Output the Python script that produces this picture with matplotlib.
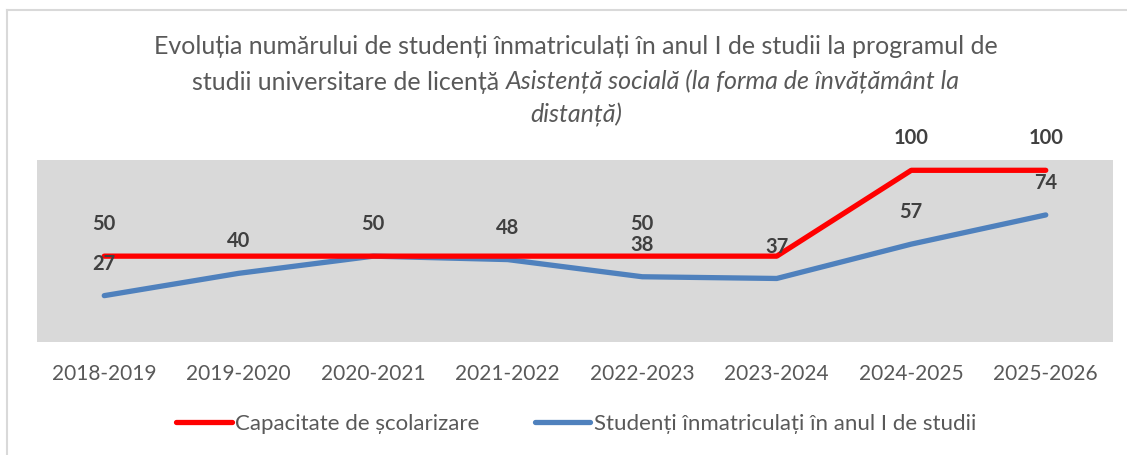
import matplotlib
matplotlib.use('Agg')
import matplotlib.pyplot as plt
from matplotlib.lines import Line2D

plt.rcParams['font.family'] = ['Lato', 'DejaVu Sans']

years = ['2018-2019', '2019-2020', '2020-2021', '2021-2022',
         '2022-2023', '2023-2024', '2024-2025', '2025-2026']
capacitate = [50, 50, 50, 50, 50, 50, 100, 100]
studenti = [27, 40, 50, 48, 38, 37, 57, 74]
# which data labels are visible in the original
cap_label_on = [True, False, True, False, True, False, True, True]
stud_label_on = [True, True, False, True, True, True, True, True]

cap_name = 'Capacitate de școlarizare'
stud_name = 'Studenți înmatriculați în anul I de studii'

RED = '#FF0000'
BLUE = '#4F81BD'
TXT = '#595959'
LBL = '#404040'

fig = plt.figure(figsize=(11.27, 4.55), dpi=100)
fig.patch.set_facecolor('white')

# chart frame (only left and top visible in the crop)
fig.add_artist(Line2D([7 / 1127, 7 / 1127], [0, 1 - 10 / 455], color='#D9D9D9', lw=1.5,
                      transform=fig.transFigure))
fig.add_artist(Line2D([7 / 1127, 1], [1 - 10 / 455, 1 - 10 / 455], color='#D9D9D9', lw=1.5,
                      transform=fig.transFigure))

ax = fig.add_axes([37 / 1127, 1 - 342 / 455, (1113 - 37) / 1127, (342 - 160) / 455])
ax.set_facecolor('#D9D9D9')
for s in ax.spines.values():
    s.set_visible(False)

x = list(range(len(years)))
ax.plot(x, studenti, color=BLUE, lw=3.8, solid_capstyle='round', solid_joinstyle='round',
        label=stud_name, zorder=3)
ax.plot(x, capacitate, color=RED, lw=3.8, solid_capstyle='round', solid_joinstyle='round',
        label=cap_name, zorder=4)

for i in x:
    if cap_label_on[i]:
        ax.annotate(str(capacitate[i]), (i, capacitate[i]), xytext=(0, 23),
                    textcoords='offset points', ha='center', va='center',
                    fontsize=14.5, fontweight='bold', color=LBL, zorder=5,
                    annotation_clip=False)
    if stud_label_on[i]:
        ax.annotate(str(studenti[i]), (i, studenti[i]), xytext=(0, 23),
                    textcoords='offset points', ha='center', va='center',
                    fontsize=14.5, fontweight='bold', color=LBL, zorder=5,
                    annotation_clip=False)

ax.set_xlim(-0.5, len(years) - 0.5)
ax.set_ylim(0, 106)
ax.set_yticks([])
ax.set_xticks(x)
ax.set_xticklabels(years, fontsize=15, color=TXT)
ax.tick_params(axis='x', length=0, pad=16)

# legend
handles = [Line2D([], [], color=RED, lw=3.8, solid_capstyle='round'),
           Line2D([], [], color=BLUE, lw=3.8, solid_capstyle='round')]
leg = fig.legend(handles, [cap_name, stud_name], loc='center', ncol=2,
                 bbox_to_anchor=(576 / 1127, 1 - 424 / 455), frameon=False,
                 fontsize=16, handlelength=2.5, handletextpad=0.15, columnspacing=2.5)
for t in leg.get_texts():
    t.set_color(TXT)

# title with italic part
tfs = 18
cx = 576 / 1127
fig.text(cx, 1 - 47 / 455, 'Evoluția numărului de studenți înmatriculați în anul I de studii la programul de',
         ha='center', va='center', fontsize=tfs, color=TXT)
part_a = 'studii universitare de licență '
part_b = 'Asistență socială (la forma de învățământ la'
renderer = fig.canvas.get_renderer()
ta = fig.text(0, 1 - 82 / 455, part_a, ha='left', va='center', fontsize=tfs, color=TXT)
tb = fig.text(0, 1 - 82 / 455, part_b, ha='left', va='center', fontsize=tfs, color=TXT,
              style='italic')
wa = ta.get_window_extent(renderer).width / fig.bbox.width
wb = tb.get_window_extent(renderer).width / fig.bbox.width
x0 = cx - (wa + wb) / 2
ta.set_x(x0)
tb.set_x(x0 + wa)
fig.text(cx, 1 - 115 / 455, 'distanță)', ha='center', va='center', fontsize=tfs,
         color=TXT, style='italic')

fig.savefig('out.png', dpi=100, facecolor='white')
